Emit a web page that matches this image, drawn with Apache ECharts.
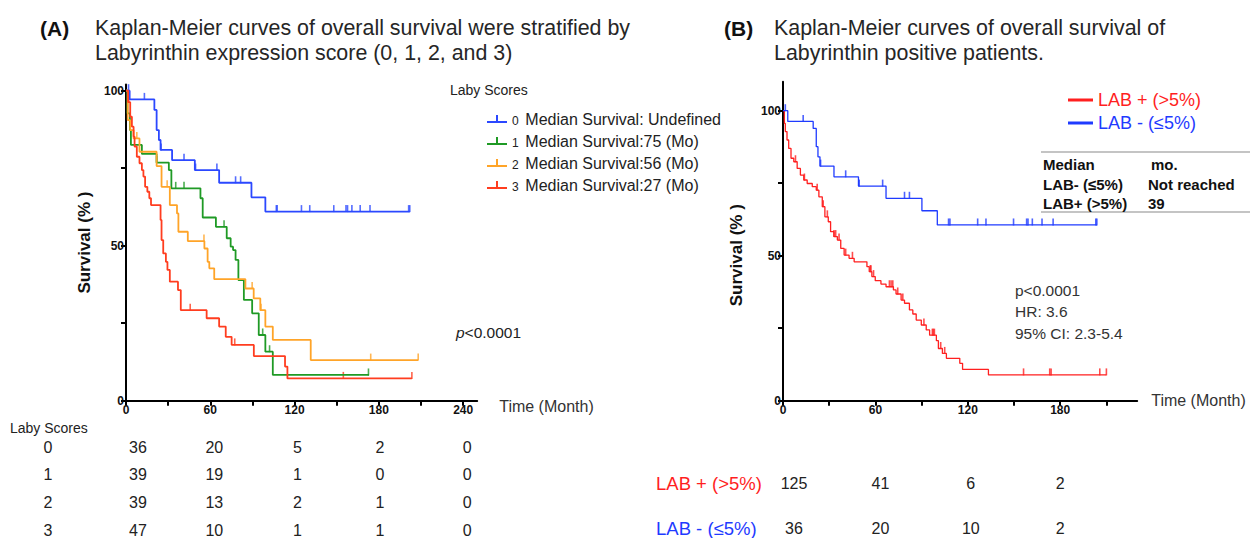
<!DOCTYPE html>
<html><head><meta charset="utf-8">
<script src="https://cdn.jsdelivr.net/npm/echarts@6/dist/echarts.min.js"></script>
<style>html,body{margin:0;padding:0;background:#fff}#c{width:1250px;height:538px}</style>
</head><body><div id="c"></div>
<script>
// ---------------- DATA ----------------
// Panel A: Laby score groups
const scoreNames = ['0', '1', '2', '3'];
const scoreMedianText = ['Median Survival: Undefined', 'Median Survival:75 (Mo)', 'Median Survival:56 (Mo)', 'Median Survival:27 (Mo)'];
const score0Steps = [[0,100],[2.6,97.2],[20.2,93.8],[21.8,87.3],[23.4,84.1],[24.6,80.9],[32.8,77.6],[49,74.4],[66.3,70.3],[89.3,65.6],[99.2,61],[202,61]];
const score0Censor = [1.8,13.1,25,41.3,49.5,64.7,78,81.6,107,107.6,124.9,130.8,147.9,156.6,157.7,160.8,166.7,173.7,201.2,202];
const score1Steps = [[0,100],[1,92.7],[2.8,87.3],[3.5,82.5],[11.3,79.6],[21.8,76.8],[30.5,74.4],[32.3,68.5],[53,65.3],[54.6,59.1],[64,56.1],[71.7,52.4],[74.5,49.7],[76.2,48.6],[78,45.4],[80,38.9],[83.9,32.5],[89.8,28.2],[94.5,21.2],[99.2,15.8],[104.5,8.3],[173,8.3]];
const score1Censor = [21.8,35.4,41.3,69.8,97.3,102.2,172.6];
const score2Steps = [[0,100],[1.2,90.5],[3,87.3],[5.4,84.6],[9.6,80.3],[21.8,75.7],[25.3,69],[31.2,63.1],[36.3,60.4],[37.3,54.5],[44,51.5],[55.8,49.1],[58.1,44.8],[59.3,42.7],[62.8,39.2],[85,36.2],[90.9,33],[95.6,29.2],[99.2,23.9],[104.5,19.6],[131.5,13.1],[208,13.1]];
const score2Censor = [7.7,29.3,55.5,89.8,96.1,174.2,208];
const score3Steps = [[0,100],[1.5,96.3],[3,91.6],[4.2,88.4],[5.4,85.2],[6.1,82],[7.7,78.7],[9.6,76.6],[11.3,74.4],[12.4,72.3],[13.6,69],[15.2,67.4],[16.6,65.3],[17.8,63.1],[24.6,58.3],[25.3,51.8],[26.5,47.5],[28.4,44.8],[29.5,42.2],[31.2,38.4],[37,35.7],[39,29.2],[57.4,26.6],[66.3,23.9],[71,20.6],[75.2,18],[91,14.4],[113.2,11],[114.9,7.2],[203.5,7.2]];
const score3Censor = [2,45.7,77.4,154.7,203.5];
// Panel A: number at risk
const riskTimesA = [0, 60, 120, 180, 240];
const riskScore0 = [36, 20, 5, 2, 0];
const riskScore1 = [39, 19, 1, 0, 0];
const riskScore2 = [39, 13, 2, 1, 0];
const riskScore3 = [47, 10, 1, 1, 0];
// Axis ticks / labels
const xTicksA = [0,30,60,90,120,150,180,210,240];
const xLabelsA = [0,60,120,180,240];
const yTicks = [0,25,50,75,100];
const yLabels = [0,50,100];

// Panel B: LAB+ / LAB-
const labNames = ['LAB + (>5%)', 'LAB - (≤5%)'];
const labPosSteps = [[0,100],[0.9,95.6],[1.5,92.8],[2.6,89.9],[3.7,87],[5.2,83.6],[7,82.4],[9.2,80.1],[11.3,77.8],[13.5,76.1],[15.7,74.9],[19,73.8],[21.6,72.6],[23.3,70.3],[25.5,66.9],[27.2,63.4],[29.4,61.7],[30.9,58.3],[33.1,56.6],[35.3,55.4],[37.5,52.5],[39.7,50.2],[42.9,49.1],[46.2,47.9],[54.5,46.2],[56,44.5],[57.7,42.8],[59.9,41.4],[63.6,40.2],[66.9,39.3],[71.7,38.2],[73.4,36.8],[76.7,34.7],[78.9,33.6],[82.1,31.3],[84.3,29.9],[86.5,27.8],[89.8,26.1],[93,24.4],[95.2,22.6],[99.6,20.7],[100.9,18],[103.5,16.3],[106.1,14.6],[114.8,12.9],[116.6,10.8],[133.4,8.9],[210,8.9]];
const labPosCensor = [8.1,13.9,22.2,26.1,28.8,33.1,34.2,36.4,40.7,45.1,56.7,57.1,58.8,69.1,70.2,71.3,74.5,77.8,91.5,97,97.6,98.3,102.4,105,156.2,173.2,174.1,205.7,210];
const labNegSteps = [[0,100],[3.1,96.3],[19.6,93.9],[21.6,87.6],[22.7,84.1],[24,80.9],[33.1,77.2],[49,74],[66.9,69.8],[90.2,65.5],[100.2,60.6],[203.8,60.6]];
const labNegCensor = [1.5,13.1,24.4,40.7,49.5,64.7,78.9,82.1,107.5,108.4,126.4,131.8,149.7,158.2,159.1,161.9,168.2,175.4,203.1,203.8];
// Panel B: number at risk
const riskTimesB = [0, 60, 120, 180];
const riskLabPos = [125, 41, 6, 2];
const riskLabNeg = [36, 20, 10, 2];
const xTicksB = [0,30,60,90,120,150,180,210];
const xLabelsB = [0,60,120,180];
// Panel B median table
const medianHeader = ['Median', 'mo.'];
const medianRows = [['LAB- (≤5%)', 'Not reached'], ['LAB+ (>5%)', '39']];

// ---------------- STYLE ----------------
const colorsA = ['#2b48ff', '#1f9a25', '#ffa428', '#ff3d1f'];
const colorPos = '#ff1f1f', colorNeg = '#1f3bff';
const FONT = "'Liberation Sans', Arial, sans-serif";

function levelAt(steps, t) {
  let s = steps[0][1];
  for (const p of steps) if (p[0] <= t) s = p[1];
  return s;
}

function kmSeries(name, steps, censor, color, gi, width) {
  return [
    { type: 'line', name: name, xAxisIndex: gi, yAxisIndex: gi, data: steps, step: 'end',
      symbol: 'none', lineStyle: { color: color, width: width }, itemStyle: { color: color }, silent: true },
    { type: 'scatter', name: name + ' censored', xAxisIndex: gi, yAxisIndex: gi,
      data: censor.map(t => [t, levelAt(steps, t)]), symbol: 'rect', symbolSize: [1.6, 7],
      symbolOffset: [0, -3], itemStyle: { color: color }, silent: true }
  ];
}

function labelCfg(labels, margin) {
  return {
    show: true, margin: margin, fontSize: 12, fontWeight: 'bold', fontFamily: FONT, color: '#111',
    showMaxLabel: false,
    formatter: function (v) { return labels.indexOf(v) >= 0 ? String(v) : ''; }
  };
}

function xAxisCfg(gi, max, ticks, labels, gap) {
  return {
    gridIndex: gi, type: 'value', min: 0, max: max, interval: 30,
    axisLine: { show: true, onZero: false, lineStyle: { color: '#000', width: 2 } },
    axisTick: { show: true, length: 5, customValues: ticks, lineStyle: { color: '#000', width: 2 } },
    axisLabel: labelCfg(labels, 3),
    splitLine: { show: false },
    name: 'Time (Month)', nameLocation: 'end', nameGap: gap,
    nameTextStyle: gi === 0
      ? { fontSize: 16, fontFamily: FONT, color: '#333', verticalAlign: 'top', lineHeight: 12 }
      : { fontSize: 16, fontFamily: FONT, color: '#333' }
  };
}
function yAxisCfg(gi, max, gap, pad) {
  return {
    gridIndex: gi, type: 'value', min: 0, max: max, interval: 25,
    axisLine: { show: true, onZero: false, lineStyle: { color: '#000', width: 2 } },
    axisTick: { show: true, length: 5, customValues: yTicks, lineStyle: { color: '#000', width: 2 } },
    axisLabel: labelCfg(yLabels, 2),
    splitLine: { show: false },
    name: 'Survival (% )', nameLocation: 'middle', nameGap: gap,
    nameTextStyle: { fontSize: 17, fontWeight: 'bold', fontFamily: FONT, color: '#111', padding: pad }
  };
}

const series = [];
const stepsA = [score0Steps, score1Steps, score2Steps, score3Steps];
const censA = [score0Censor, score1Censor, score2Censor, score3Censor];
scoreNames.forEach((n, i) => series.push(...kmSeries(n, stepsA[i], censA[i], colorsA[i], 0, 1.8)));
series.push(...kmSeries(labNames[0], labPosSteps, labPosCensor, colorPos, 1, 1.3));
series.push(...kmSeries(labNames[1], labNegSteps, labNegCensor, colorNeg, 1, 1.3));

const chart = echarts.init(document.getElementById('c'), null, { renderer: 'svg' });
chart.setOption({
  animation: false,
  backgroundColor: '#fff',
  grid: [
    { left: 126, top: 84.5, width: 351.2, height: 316.2, outerBoundsMode: 'none' },
    { left: 783, top: 81.7, width: 354.2, height: 319, outerBoundsMode: 'none' }
  ],
  xAxis: [xAxisCfg(0, 250, xTicksA, xLabelsA, 22), xAxisCfg(1, 230, xTicksB, xLabelsB, 14)],
  yAxis: [yAxisCfg(0, 102, 33, [0, 0, 0, 0]), yAxisCfg(1, 110, 38, [0, 28, 0, 0])],
  legend: [
    { orient: 'vertical', left: 482, top: 106, itemGap: 6, itemWidth: 20, itemHeight: 10, itemTextGap: 6,
      selectedMode: false,
      icon: 'path://M0,8L20,8L20,10L0,10Z M9,2L11,2L11,8L9,8Z',
      data: scoreNames,
      formatter: function (name) { return '{n|' + name + '}  {t|' + scoreMedianText[scoreNames.indexOf(name)] + '}'; },
      textStyle: { fontFamily: FONT, color: '#222', rich: { n: { fontSize: 12, fontFamily: FONT, color: '#222', padding: [4, 0, 0, 0] }, t: { fontSize: 16, fontFamily: FONT, color: '#222' } } } },
    { orient: 'vertical', left: 1063, top: 86, itemGap: 5, itemWidth: 25, itemHeight: 3, itemTextGap: 5,
      selectedMode: false, icon: 'rect',
      data: [{ name: labNames[0], textStyle: { color: colorPos } }, { name: labNames[1], textStyle: { color: colorNeg } }],
      textStyle: { fontSize: 18, fontFamily: FONT } }
  ],
  series: series
});

// ---------------- TEXT / TABLES ----------------
const g = [];
function txt(x, y, s, opt) {
  g.push({ type: 'text', x: x, y: y, silent: true,
    style: Object.assign({ text: s, fontSize: 16, fontFamily: FONT, fill: '#222', textVerticalAlign: 'middle', textAlign: 'left' }, opt || {}) });
}
// titles
txt(40, 28, '(A)', { fontSize: 21, fontWeight: 'bold', fill: '#111' });
txt(95, 28, 'Kaplan-Meier curves of overall survival were stratified by', { fontSize: 21.4, fill: '#262626' });
txt(95, 53, 'Labyrinthin expression score (0, 1, 2, and 3)', { fontSize: 21.4, fill: '#262626' });
txt(724, 28, '(B)', { fontSize: 21, fontWeight: 'bold', fill: '#111' });
txt(774, 28, 'Kaplan-Meier curves of overall survival of', { fontSize: 21.4, fill: '#262626' });
txt(774, 53, 'Labyrinthin positive patients.', { fontSize: 21.4, fill: '#262626' });
// legend A heading
txt(450, 90, 'Laby Scores', { fontSize: 14 });
// p value A
txt(456, 332, '{i|p}<0.0001', { fontSize: 15.5, rich: { i: { fontStyle: 'italic', fontSize: 15.5, fontFamily: FONT, fill: '#222' } } });
// B annotations
txt(1015, 290, 'p<0.0001', { fontSize: 15.5, fill: '#333' });
txt(1015, 311, 'HR: 3.6', { fontSize: 15.5, fill: '#333' });
txt(1015, 333, '95% CI: 2.3-5.4', { fontSize: 15.5, fill: '#333' });
// median table B
g.push({ type: 'line', silent: true, shape: { x1: 1041, y1: 152, x2: 1250, y2: 152 }, style: { stroke: '#b0b0b0', lineWidth: 1.5 } });
g.push({ type: 'line', silent: true, shape: { x1: 1041, y1: 212, x2: 1250, y2: 212 }, style: { stroke: '#b0b0b0', lineWidth: 1.5 } });
txt(1043, 164, medianHeader[0], { fontSize: 15, fontWeight: 'bold', fill: '#111' });
txt(1151, 164, medianHeader[1], { fontSize: 15, fontWeight: 'bold', fill: '#111' });
medianRows.forEach((r, i) => {
  txt(1043, 184 + i * 19.5, r[0], { fontSize: 15, fontWeight: 'bold', fill: '#111' });
  txt(1148, 184 + i * 19.5, r[1], { fontSize: 15, fontWeight: 'bold', fill: '#111' });
});
// risk table A
txt(10, 428, 'Laby Scores', { fontSize: 14 });
const riskA = [riskScore0, riskScore1, riskScore2, riskScore3];
const rowYA = [447, 474, 502, 530];
const colOffA = [12, 4, 3, 1, 4];
riskA.forEach((row, r) => {
  txt(48, rowYA[r], scoreNames[r], { textAlign: 'center', fontSize: 16 });
  row.forEach((v, c) => {
    const px = chart.convertToPixel({ gridIndex: 0 }, [riskTimesA[c], 0])[0];
    txt(px + colOffA[c], rowYA[r], String(v), { textAlign: 'center', fontSize: 16 });
  });
});
// risk table B
const riskB = [riskLabPos, riskLabNeg];
const rowYB = [483, 528];
const rowColB = [colorPos, colorNeg];
const colOffB = [11, 5, 3, 0];
riskB.forEach((row, r) => {
  txt(656, rowYB[r], labNames[r], { fontSize: 18.5, fill: rowColB[r] });
  row.forEach((v, c) => {
    const px = chart.convertToPixel({ gridIndex: 1 }, [riskTimesB[c], 0])[0];
    txt(px + colOffB[c], rowYB[r], String(v), { textAlign: 'center', fontSize: 16 });
  });
});
chart.setOption({ graphic: g });
</script></body></html>
